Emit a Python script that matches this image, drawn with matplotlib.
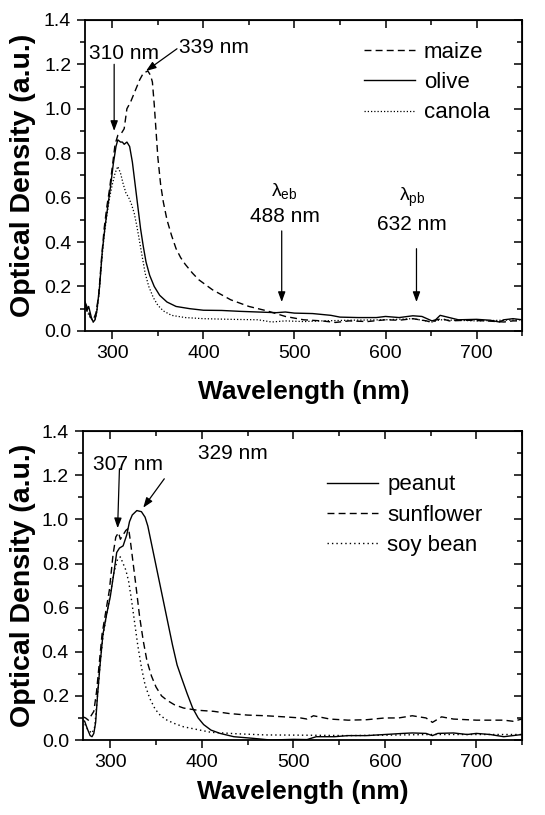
import matplotlib
matplotlib.use("Agg")
import matplotlib.pyplot as plt
from matplotlib.ticker import MultipleLocator

plt.rcParams['font.family'] = ['Liberation Sans', 'DejaVu Sans']
plt.rcParams['mathtext.fontset'] = 'custom'
plt.rcParams['mathtext.rm'] = 'Liberation Sans'
plt.rcParams['mathtext.it'] = 'Liberation Sans'

# ---------------- top panel data ----------------
maize_x = [270, 273, 276, 279, 282, 285, 288, 291, 294, 297, 300, 303, 306, 310, 313, 316, 320, 325, 330, 334, 339,
           342, 344, 346, 348, 350, 353, 356, 360, 365, 370, 375, 380, 388, 395, 410, 430, 450, 470, 490, 510, 530,
           545, 560, 580, 600, 615, 630, 645, 651, 656, 662, 670, 690, 710, 730, 740, 750]
maize_y = [0.13, 0.10, 0.06, 0.05, 0.08, 0.16, 0.32, 0.46, 0.56, 0.64, 0.74, 0.84, 0.88, 0.89, 0.91, 1.00, 1.03, 1.08,
           1.13, 1.16, 1.17, 1.15, 1.12, 1.02, 0.90, 0.78, 0.66, 0.58, 0.50, 0.43, 0.37, 0.33, 0.30, 0.26, 0.23, 0.185,
           0.14, 0.11, 0.09, 0.065, 0.05, 0.045, 0.038, 0.045, 0.042, 0.05, 0.048, 0.055, 0.045, 0.038, 0.05, 0.055,
           0.045, 0.048, 0.045, 0.04, 0.045, 0.045]

olive_x = [270, 272, 274, 277, 279, 281, 283, 286, 289, 292, 295, 298, 301, 304, 306, 309, 311, 313, 316, 319, 322,
           325, 328, 331, 334, 337, 341, 346, 352, 360, 370, 385, 400, 420, 440, 460, 480, 490, 500, 520, 540, 550,
           570, 590, 600, 615, 630, 640, 651, 655, 660, 670, 680, 700, 715, 725, 730, 740, 750]
olive_y = [0.13, 0.09, 0.11, 0.06, 0.04, 0.05, 0.09, 0.20, 0.36, 0.47, 0.56, 0.65, 0.75, 0.83, 0.86, 0.85, 0.85, 0.84,
           0.85, 0.83, 0.76, 0.66, 0.56, 0.46, 0.38, 0.31, 0.25, 0.20, 0.16, 0.13, 0.11, 0.10, 0.093, 0.092, 0.088,
           0.085, 0.082, 0.085, 0.08, 0.078, 0.07, 0.062, 0.06, 0.06, 0.065, 0.06, 0.068, 0.065, 0.045, 0.05, 0.07,
           0.06, 0.05, 0.052, 0.048, 0.04, 0.05, 0.055, 0.05]

canola_x = [270, 273, 276, 279, 282, 285, 288, 291, 294, 297, 300, 303, 306, 309, 312, 315, 318, 321, 324, 327, 330,
            333, 336, 340, 345, 350, 356, 365, 380, 400, 430, 460, 475, 490, 510, 530, 560, 600, 630, 651, 660, 700, 750]
canola_y = [0.12, 0.08, 0.06, 0.04, 0.06, 0.15, 0.30, 0.43, 0.52, 0.60, 0.66, 0.71, 0.74, 0.71, 0.66, 0.62, 0.60,
            0.57, 0.53, 0.47, 0.40, 0.33, 0.26, 0.20, 0.15, 0.115, 0.09, 0.07, 0.06, 0.055, 0.052, 0.05, 0.04, 0.045,
            0.042, 0.045, 0.048, 0.05, 0.055, 0.04, 0.05, 0.045, 0.05]

# ---------------- bottom panel data ----------------
peanut_x = [270, 272, 275, 278, 280, 282, 284, 286, 289, 292, 296, 300, 304, 307, 310, 314, 318, 321, 324, 329, 334,
            338, 341, 344, 348, 353, 358, 363, 368, 373, 378, 384, 390, 396, 402, 410, 420, 435, 455, 475, 500, 515,
            525, 545, 560, 580, 600, 620, 630, 645, 652, 658, 675, 690, 700, 715, 730, 740, 750]
peanut_y = [0.09, 0.085, 0.05, 0.02, 0.015, 0.03, 0.08, 0.20, 0.35, 0.48, 0.57, 0.65, 0.76, 0.85, 0.87, 0.88, 0.93,
            0.99, 1.02, 1.04, 1.035, 1.01, 0.97, 0.91, 0.83, 0.73, 0.63, 0.53, 0.43, 0.34, 0.28, 0.21, 0.145, 0.10,
            0.07, 0.045, 0.03, 0.015, 0.008, 0.0, 0.003, 0.002, 0.015, 0.015, 0.02, 0.02, 0.025, 0.03, 0.032, 0.03,
            0.02, 0.03, 0.032, 0.025, 0.03, 0.025, 0.015, 0.02, 0.025]

sunflower_x = [270, 273, 276, 279, 282, 285, 288, 291, 295, 299, 303, 306, 309, 311, 314, 317, 320, 322, 325, 328,
               332, 336, 340, 345, 350, 356, 362, 370, 380, 395, 413, 430, 450, 470, 490, 508, 515, 522, 540, 560,
               580, 600, 615, 630, 645, 652, 662, 675, 700, 730, 740, 750]
sunflower_y = [0.105, 0.10, 0.09, 0.11, 0.13, 0.22, 0.35, 0.48, 0.58, 0.68, 0.84, 0.92, 0.94, 0.91, 0.93, 0.95, 0.96,
               0.90, 0.80, 0.70, 0.56, 0.45, 0.36, 0.29, 0.24, 0.20, 0.18, 0.16, 0.145, 0.135, 0.13, 0.12, 0.113,
               0.11, 0.105, 0.10, 0.095, 0.11, 0.095, 0.09, 0.092, 0.10, 0.10, 0.11, 0.10, 0.08, 0.105, 0.095, 0.09,
               0.09, 0.085, 0.095]

soy_x = [270, 275, 280, 283, 286, 289, 292, 296, 300, 304, 308, 311, 314, 317, 320, 323, 326, 330, 334, 338, 343,
         349, 355, 362, 370, 380, 392, 410, 440, 470, 510, 560, 600, 650, 700, 750]
soy_y = [0.09, 0.05, 0.03, 0.06, 0.20, 0.35, 0.47, 0.57, 0.66, 0.76, 0.82, 0.83, 0.80, 0.77, 0.72, 0.64, 0.55, 0.43,
         0.33, 0.25, 0.19, 0.14, 0.11, 0.09, 0.075, 0.06, 0.05, 0.035, 0.028, 0.023, 0.022, 0.02, 0.022, 0.025,
         0.025, 0.025]

x_ticks = [300, 400, 500, 600, 700]
y_ticks = [0.0, 0.2, 0.4, 0.6, 0.8, 1.0, 1.2, 1.4]

fig = plt.figure(figsize=(5.45, 8.15), dpi=100)
ax1 = fig.add_axes([0.156, 0.594, 0.802, 0.3816])
ax2 = fig.add_axes([0.152, 0.092, 0.806, 0.379])

DASH = (0, (5, 3))
DOT = (0, (1, 1.6))


def style(ax, xlab_y, ylab_x):
    ax.set_xlim(270, 750)
    ax.set_ylim(0, 1.4)
    ax.set_xticks(x_ticks)
    ax.set_yticks(y_ticks)
    ax.set_yticklabels([f"{v:.1f}" for v in y_ticks])
    ax.xaxis.set_minor_locator(MultipleLocator(50))
    ax.yaxis.set_minor_locator(MultipleLocator(0.1))
    ax.tick_params(which='both', direction='out', labelsize=14, width=1.1)
    ax.tick_params(which='major', length=6, pad=4)
    ax.tick_params(which='minor', length=3.5)
    for s in ax.spines.values():
        s.set_linewidth(1.3)
    # mirrored ticks pointing inward on top and right
    top = ax.secondary_xaxis('top')
    top.set_xticks(x_ticks)
    top.xaxis.set_minor_locator(MultipleLocator(50))
    top.tick_params(which='both', direction='in', labeltop=False, width=1.1)
    top.tick_params(which='major', length=6)
    top.tick_params(which='minor', length=3.5)
    right = ax.secondary_yaxis('right')
    right.set_yticks(y_ticks)
    right.yaxis.set_minor_locator(MultipleLocator(0.1))
    right.tick_params(which='both', direction='in', labelright=False, width=1.1)
    right.tick_params(which='major', length=6)
    right.tick_params(which='minor', length=3.5)
    ax.set_xlabel('Wavelength (nm)', fontsize=19, fontweight='bold', va='center')
    ax.xaxis.set_label_coords(0.5, xlab_y)
    ax.set_ylabel('Optical Density (a.u.)', fontsize=20.5, fontweight='bold', va='center')
    ax.yaxis.set_label_coords(ylab_x, 0.5)


arrow = dict(arrowstyle='-|>,head_length=0.6,head_width=0.22', color='black', lw=0.9, shrinkA=0, shrinkB=0)
leg_kw = dict(frameon=False, fontsize=16, handlelength=2.3, handletextpad=0.4, labelspacing=0.42,
              borderpad=0, borderaxespad=0)

# top
ax1.plot(maize_x, maize_y, color='black', lw=1.0, ls=DASH, label='maize')
ax1.plot(olive_x, olive_y, color='black', lw=1.0, ls='-', label='olive')
ax1.plot(canola_x, canola_y, color='black', lw=0.9, ls=DOT, label='canola')
style(ax1, -0.196, -0.142)
ax1.legend(loc='upper left', bbox_to_anchor=(0.6375, 0.93), **leg_kw)
ax1.annotate('', xy=(302, 0.9), xytext=(302, 1.2), arrowprops=arrow)
ax1.text(313, 1.25, '310 nm', fontsize=15, ha='center', va='center')
ax1.annotate('', xy=(337, 1.17), xytext=(371, 1.27), arrowprops=arrow)
ax1.text(412, 1.275, '339 nm', fontsize=15, ha='center', va='center')
ax1.text(489, 0.63, r'$\lambda_{\mathrm{eb}}$', fontsize=14, ha='center', va='center')
ax1.text(489, 0.515, '488 nm', fontsize=15, ha='center', va='center')
ax1.annotate('', xy=(486, 0.13), xytext=(486, 0.45), arrowprops=arrow)
ax1.text(629, 0.60, r'$\lambda_{\mathrm{pb}}$', fontsize=14, ha='center', va='center')
ax1.text(629, 0.48, '632 nm', fontsize=15, ha='center', va='center')
ax1.annotate('', xy=(634, 0.13), xytext=(634, 0.37), arrowprops=arrow)

# bottom
ax2.plot(peanut_x, peanut_y, color='black', lw=1.0, ls='-', label='peanut')
ax2.plot(sunflower_x, sunflower_y, color='black', lw=1.0, ls=DASH, label='sunflower')
ax2.plot(soy_x, soy_y, color='black', lw=1.0, ls=(0, (1, 2.2)), label='soy bean')
style(ax2, -0.168, -0.137)
ax2.legend(loc='upper left', bbox_to_anchor=(0.556, 0.86), **leg_kw)
ax2.annotate('', xy=(308, 0.96), xytext=(310, 1.23), arrowprops=arrow)
ax2.text(319, 1.25, '307 nm', fontsize=15, ha='center', va='center')
ax2.annotate('', xy=(336, 1.053), xytext=(359, 1.184), arrowprops=arrow)
ax2.text(434, 1.30, '329 nm', fontsize=15, ha='center', va='center')

fig.savefig('out.png', dpi=100)
